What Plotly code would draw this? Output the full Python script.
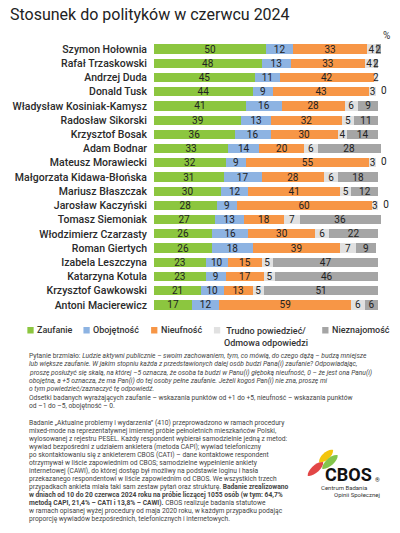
import math
import plotly.graph_objects as go

names = ["Szymon Hołownia", "Rafał Trzaskowski", "Andrzej Duda", "Donald Tusk",
         "Władysław Kosiniak-Kamysz", "Radosław Sikorski", "Krzysztof Bosak",
         "Adam Bodnar", "Mateusz Morawiecki", "Małgorzata Kidawa-Błońska",
         "Mariusz Błaszczak", "Jarosław Kaczyński", "Tomasz Siemoniak",
         "Włodzimierz Czarzasty", "Roman Giertych", "Izabela Leszczyna",
         "Katarzyna Kotula", "Krzysztof Gawkowski", "Antoni Macierewicz"]
zaufanie = [50, 48, 45, 44, 41, 39, 36, 33, 32, 31, 30, 28, 27, 26, 26, 23, 23, 21, 17]
obojetnosc = [12, 13, 11, 9, 16, 13, 16, 14, 9, 17, 12, 9, 13, 16, 18, 10, 9, 10, 12]
nieufnosc = [33, 33, 42, 43, 28, 32, 30, 20, 55, 28, 41, 60, 18, 30, 39, 15, 17, 13, 59]
trudno = [4, 4, 2, 3, 6, 5, 4, 6, 3, 6, 5, 3, 7, 6, 7, 5, 5, 5, 6]
nieznajomosc = [2, 2, None, 0, 9, 11, 14, 28, 0, 18, 12, 0, 36, 22, 9, 47, 46, 51, 6]

series_names = ["Zaufanie", "Obojętność", "Nieufność",
                "Trudno powiedzieć/<br>Odmowa odpowiedzi", "Nieznajomość"]
colors = ["#8cc63f", "#8db3e2", "#f79646", "#e1e1e1", "#a5a5a5"]
series = [zaufanie, obojetnosc, nieufnosc, trudno, nieznajomosc]

W, H = 400, 533
L, T, B = 146, 42, 221
XMAX = 103
PX_PER_UNIT = 2.32
PW = XMAX * PX_PER_UNIT
R = W - L - PW
PH = H - T - B


def px(x):
    return (x - L) / PW


def py(y):
    return (H - B - y) / PH


fig = go.Figure()
for nm, col, vals in zip(series_names, colors, series):
    fig.add_trace(go.Bar(
        y=names, x=vals, orientation="h", name=nm,
        marker=dict(color=col, line=dict(width=0)),
        text=[("" if (v is None or v == 0) else str(v)) for v in vals],
        textposition="inside", insidetextanchor="middle", textangle=0,
        textfont=dict(family="Roboto", size=10, color="#222222"),
        constraintext="none", showlegend=False, cliponaxis=False,
    ))

# zero labels for "Nieznajomość" placed just after the end of the bar
zx, zy, zt = [], [], []
for i, n in enumerate(names):
    if nieznajomosc[i] == 0:
        zx.append(zaufanie[i] + obojetnosc[i] + nieufnosc[i] + trudno[i])
        zy.append(n)
        zt.append("\u00a0\u00a00")
fig.add_trace(go.Scatter(x=zx, y=zy, text=zt, mode="text", textposition="middle right",
                         textfont=dict(family="Roboto", size=10, color="#222222"),
                         showlegend=False, cliponaxis=False, hoverinfo="skip"))

annotations = []
annotations.append(dict(x=px(387), y=py(35), xref="paper", yref="paper", text="%",
                        showarrow=False, xanchor="center", yanchor="middle",
                        font=dict(family="Roboto", size=10, color="#333333")))

# legend
leg_x = [15, 73, 143, 208, 320]
shapes = []
lf = dict(family="Roboto", size=9, color="#333333", weight=500)
for lx, nm, col in zip(leg_x, series_names, colors):
    shapes.append(dict(type="rect", xref="paper", yref="paper",
                       x0=px(lx), x1=px(lx + 6.5), y0=py(333.5), y1=py(327),
                       fillcolor=col, line=dict(width=0)))
    if "<br>" in nm:
        annotations.append(dict(x=px(lx + 8), y=py(330 - 6), xref="paper", yref="paper",
                                text=nm, showarrow=False, xanchor="left", yanchor="top",
                                align="center", font=lf))
    else:
        annotations.append(dict(x=px(lx + 8), y=py(330), xref="paper", yref="paper",
                                text=nm, showarrow=False, xanchor="left", yanchor="middle",
                                font=lf))

para1 = [
    "Pytanie brzmiało: <i>Ludzie aktywni publicznie – swoim zachowaniem, tym, co mówią, do czego dążą – budzą mniejsze</i>",
    "<i>lub większe zaufanie. W jakim stopniu każda z przedstawionych dalej osób budzi Pana(i) zaufanie? Odpowiadając,</i>",
    "<i>proszę posłużyć się skalą, na której –5 oznacza, że osoba ta budzi w Panu(i) głęboką nieufność, 0 – że jest ona Panu(i)</i>",
    "<i>obojętna, a +5 oznacza, że ma Pan(i) do tej osoby pełne zaufanie. Jeżeli kogoś Pan(i) nie zna, proszę mi</i>",
    "<i>o tym powiedzieć/zaznaczyć tę odpowiedź.</i>",
    "Odsetki badanych wyrażających zaufanie – wskazania punktów od +1 do +5, nieufność – wskazania punktów",
    "od –1 do –5, obojętność – 0.",
]
para2 = [
    "Badanie „Aktualne problemy i wydarzenia” (410) przeprowadzono w ramach procedury",
    "mixed-mode na reprezentatywnej imiennej próbie pełnoletnich mieszkańców Polski,",
    "wylosowanej z rejestru PESEL. Każdy respondent wybierał samodzielnie jedną z metod:",
    "wywiad bezpośredni z udziałem ankietera (metoda CAPI); wywiad telefoniczny",
    "po skontaktowaniu się z ankieterem CBOS (CATI) – dane kontaktowe respondent",
    "otrzymywał w liście zapowiednim od CBOS; samodzielne wypełnienie ankiety",
    "internetowej (CAWI), do której dostęp był możliwy na podstawie loginu i hasła",
    "przekazanego respondentowi w liście zapowiednim od CBOS. We wszystkich trzech",
    "przypadkach ankieta miała taki sam zestaw pytań oraz strukturę. <b>Badanie zrealizowano</b>",
    "<b>w dniach od 10 do 20 czerwca 2024 roku na próbie liczącej 1055 osób (w tym: 64,7%</b>",
    "<b>metodą CAPI, 21,4% – CATI i 13,8% – CAWI).</b> CBOS realizuje badania statutowe",
    "w ramach opisanej wyżej procedury od maja 2020 roku, w każdym przypadku podając",
    "proporcję wywiadów bezpośrednich, telefonicznych i internetowych.",
]
tf = dict(family="Roboto", size=6.7, color="#444444")
for i, line in enumerate(para1):
    annotations.append(dict(x=px(15), y=py(356 + 8.3 * i), xref="paper", yref="paper",
                            text=line, showarrow=False, xanchor="left", yanchor="middle",
                            font=tf))
for i, line in enumerate(para2):
    annotations.append(dict(x=px(15), y=py(423 + 8.0 * i), xref="paper", yref="paper",
                            text=line, showarrow=False, xanchor="left", yanchor="middle",
                            font=tf))


# CBOS logo
def leaf(cx, cy, length, width, col):
    ang = math.radians(-40)
    dx, dy = math.cos(ang), math.sin(ang)
    nx, ny = -dy, dx
    x0, y0 = cx - dx * length / 2, cy - dy * length / 2
    x1, y1 = cx + dx * length / 2, cy + dy * length / 2
    k = width * 0.7
    c1 = (x0 + nx * k, y0 + ny * k)
    c2 = (x1 + nx * k, y1 + ny * k)
    c3 = (x1 - nx * k, y1 - ny * k)
    c4 = (x0 - nx * k, y0 - ny * k)
    e1 = (x1 + dx * width * 0.5, y1 + dy * width * 0.5)
    e0 = (x0 - dx * width * 0.5, y0 - dy * width * 0.5)
    pts = lambda p: f"{px(p[0]):.5f},{py(p[1]):.5f}"
    path = (f"M {pts(e0)} C {pts(c1)} {pts(c2)} {pts(e1)} "
            f"C {pts(c3)} {pts(c4)} {pts(e0)} Z")
    return dict(type="path", xref="paper", yref="paper", path=path,
                fillcolor=col, line=dict(width=0), opacity=0.95)


shapes.append(leaf(313, 469, 14, 7, "#e03c3c"))
shapes.append(leaf(324, 456, 12, 7, "#f2c200"))
shapes.append(leaf(328, 462, 14, 7, "#7cc242"))
annotations.append(dict(x=px(321), y=py(474), xref="paper", yref="paper", text="<b>CBOS</b>",
                        showarrow=False, xanchor="left", yanchor="middle",
                        font=dict(family="Roboto", size=18, color="#111111")))
annotations.append(dict(x=px(373), y=py(479), xref="paper", yref="paper", text="®",
                        showarrow=False, xanchor="left", yanchor="middle",
                        font=dict(family="Roboto", size=6, color="#111111")))
annotations.append(dict(x=px(368), y=py(487), xref="paper", yref="paper", text="Centrum Badania",
                        showarrow=False, xanchor="right", yanchor="middle",
                        font=dict(family="Roboto", size=6, color="#333333")))
annotations.append(dict(x=px(382), y=py(494), xref="paper", yref="paper", text="Opinii Społecznej",
                        showarrow=False, xanchor="right", yanchor="middle",
                        font=dict(family="Roboto", size=6, color="#333333")))

fig.update_layout(
    width=W, height=H, autosize=False,
    margin=dict(l=L, r=R, t=T, b=B, pad=0),
    barmode="stack", bargap=0.35,
    plot_bgcolor="white", paper_bgcolor="white",
    title=dict(text="Stosunek do polityków w czerwcu 2024", x=10 / W, xanchor="left",
               y=1 - 14 / H, yanchor="middle",
               font=dict(family="Roboto", size=16, color="#222222")),
    xaxis=dict(range=[0, XMAX], visible=False, fixedrange=True),
    yaxis=dict(autorange="reversed", showgrid=False, zeroline=False, showline=False,
               ticks="", ticklabelstandoff=6, fixedrange=True,
               tickfont=dict(family="Roboto", size=10.5, color="#2a2a2a", weight=500)),
    uniformtext=dict(minsize=10, mode="show"),
    annotations=annotations, shapes=shapes,
)

fig.write_html("out.html", config={"displayModeBar": False},
               post_script="document.body.style.margin='0';"
                           "document.documentElement.style.overflow='hidden';")
